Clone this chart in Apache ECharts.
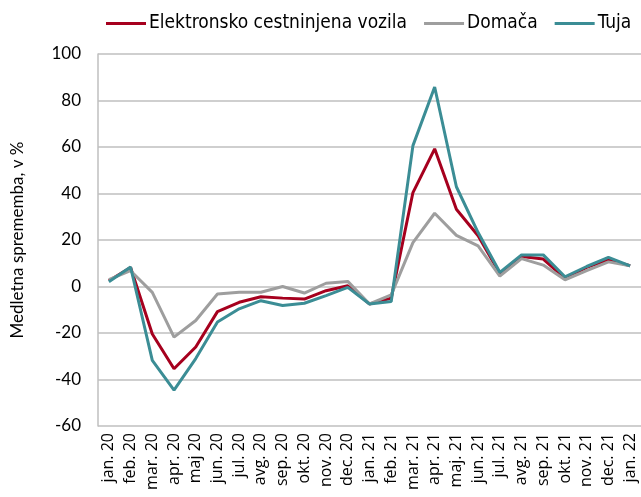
<!DOCTYPE html>
<html>
<head>
<meta charset="utf-8">
<script src="https://cdn.jsdelivr.net/npm/echarts@6/dist/echarts.min.js"></script>
<style>
html, body { margin: 0; padding: 0; background: #fff; }
#myChart { width: 641px; height: 497px; }
</style>
</head>
<body>
<div id="myChart"></div>
<script>
const months = ['jan. 20', 'feb. 20', 'mar. 20', 'apr. 20', 'maj 20', 'jun. 20', 'jul. 20', 'avg. 20', 'sep. 20', 'okt. 20', 'nov. 20', 'dec. 20',
    'jan. 21', 'feb. 21', 'mar. 21', 'apr. 21', 'maj. 21', 'jun. 21', 'jul. 21', 'avg. 21', 'sep. 21', 'okt. 21', 'nov. 21', 'dec. 21', 'jan. 22'];
const elektronsko = [2.5, 8.2, -20.4, -35.4, -26, -10.8, -6.8, -4.4, -5, -5.4, -1.8, 0.3,
    -7.5, -5, 40.4, 59.2, 33.2, 21.8, 5.6, 12.9, 11.8, 3.5, 8.2, 11.5, 8.9];
const domaca = [3, 6.8, -2.5, -21.8, -14.6, -3.2, -2.5, -2.5, 0, -2.8, 1.4, 2.2,
    -7.5, -3.6, 18.9, 31.5, 22, 17.5, 4.5, 12, 9.2, 2.9, 6.8, 10.6, 8.9];
const tuja = [2, 8.4, -31.8, -44.6, -31, -15.3, -9.6, -6.1, -8.2, -7.2, -3.9, -0.4,
    -7.5, -6.5, 60.6, 85.8, 42.9, 23.2, 6.1, 13.6, 13.6, 4.2, 8.6, 12.5, 8.9];

const gridColor = '#bfbfbf';

let myChart = echarts.init(document.getElementById('myChart'));
let option = {
    animation: false,
    legend: {
        top: 9,
        left: 101,
        itemWidth: 40,
        itemHeight: 3,
        itemGap: 17,
        icon: 'rect',
        textStyle: {
            fontFamily: '"Liberation Sans Narrow", "DejaVu Sans Condensed", sans-serif',
            fontSize: 19,
            color: '#000',
            padding: [0, 0, 0, -2]
        },
        data: ['Elektronsko cestninjena vozila', 'Domača', 'Tuja']
    },
    grid: {
        top: 54,
        left: 98,
        right: -3,
        bottom: 71
    },
    xAxis: {
        type: 'category',
        data: months,
        boundaryGap: true,
        axisLabel: {
            rotate: 90,
            interval: 0,
            margin: 7,
            color: '#000',
            fontFamily: '"Open Sans", sans-serif',
            fontSize: 16
        },
        axisLine: { show: false },
        axisTick: { show: false }
    },
    yAxis: {
        type: 'value',
        min: -60,
        max: 100,
        interval: 20,
        name: 'Medletna sprememba, v %',
        nameLocation: 'middle',
        nameGap: 72,
        nameTextStyle: {
            fontFamily: 'Lato, sans-serif',
            fontSize: 17,
            color: '#000'
        },
        axisLabel: {
            margin: 17,
            color: '#000',
            fontFamily: 'Lato, sans-serif',
            fontSize: 17
        },
        axisLine: {
            show: true,
            lineStyle: { color: gridColor, width: 1.5 }
        },
        axisTick: { show: false },
        splitLine: {
            show: true,
            lineStyle: { color: gridColor, width: 1.5 }
        }
    },
    series: [{
        name: 'Elektronsko cestninjena vozila',
        type: 'line',
        color: '#a6001e',
        symbol: 'none',
        lineStyle: { width: 3 },
        data: elektronsko
    }, {
        name: 'Domača',
        type: 'line',
        color: '#9e9e9e',
        symbol: 'none',
        lineStyle: { width: 3 },
        data: domaca
    }, {
        name: 'Tuja',
        type: 'line',
        color: '#3b8d95',
        symbol: 'none',
        lineStyle: { width: 3 },
        data: tuja
    }]
};
myChart.setOption(option);
</script>
</body>
</html>
